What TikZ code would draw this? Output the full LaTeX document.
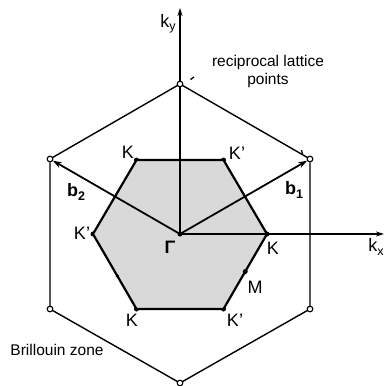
\documentclass[tikz,border=0pt]{standalone}
\usepackage{fontspec}
\setmainfont{Liberation Sans}
\usetikzlibrary{arrows.meta,calc}
\newcommand{\lsub}[1]{\raisebox{-0.35ex}{\fontsize{12.5}{13}\selectfont #1}}
\begin{document}
\begin{tikzpicture}[x=1pt,y=-1pt,
  recip/.style={circle,draw,fill=white,line width=1pt,inner sep=0pt,minimum size=5.5pt},
  kdot/.style={circle,fill=black,inner sep=0pt,minimum size=5pt},
  outerline/.style={line width=1.4pt},
  innerline/.style={line width=2.2pt},
  vec/.style={line width=1.8pt,-{Stealth[length=9pt,width=6pt]}},
  axis/.style={line width=1.3pt,-{Stealth[length=8pt,width=5pt]}},
  lab/.style={font=\fontsize{18}{20}\selectfont,inner sep=0pt},
  txt/.style={font=\fontsize{15.5}{18}\selectfont,inner sep=0pt,align=center}]
\useasboundingbox (0,0) rectangle (384,386);
% centre and points
\coordinate (G) at (180,234);
\node[kdot] (Kr) at (267,234) {};
\node[kdot] (Ktr) at (223.5,160) {};
\node[kdot] (Ktl) at (136.5,160) {};
\node[kdot] (Kl) at (93,234) {};
\node[kdot] (Kbl) at (136.5,309) {};
\node[kdot] (Kbr) at (223.5,309) {};
% Brillouin zone fill
\fill[gray!30] (Kr.center) -- (Ktr.center) -- (Ktl.center) -- (Kl.center) -- (Kbl.center) -- (Kbr.center) -- cycle;
% axes
\coordinate (ky) at (180,8);
\coordinate (kx) at (384,234);
\draw[axis] (G) -- (ky);
\draw[axis] (G) -- (kx);
% outer hexagon
\node[recip] (Pt) at (180,84) {};
\node[recip] (Pur) at (310,159) {};
\node[recip] (Plr) at (310,309) {};
\node[recip] (Pb) at (180,383) {};
\node[recip] (Pll) at (50,309) {};
\node[recip] (Pul) at (50,159) {};
\draw[outerline] (Pt) -- (Pur) -- (Plr) -- (Pb) -- (Pll) -- (Pul) -- (Pt);
% inner hexagon
\draw[innerline,line join=round] (Kr.center) -- (Ktr.center) -- (Ktl.center) -- (Kl.center) -- (Kbl.center) -- (Kbr.center) -- cycle;
% reciprocal vectors
\draw[vec] (G) -- (Pur);
\draw[vec] (G) -- (Pul);
% redraw points on top
\foreach \p in {Pt,Pur,Plr,Pb,Pll,Pul} \node[recip] at (\p) {};
\node[kdot] (Gam) at (G) {};
\node[kdot] (M) at ($(Kr)!0.5!(Kbr)$) {};
\node[kdot,minimum size=3.5pt] (Mm) at ($(Kl)!0.56!(Kbl)$) {};
% small marks
\coordinate (t1a) at (190.5,79.5); \coordinate (t1b) at (194,77);
\coordinate (t2a) at (301.5,150); \coordinate (t2b) at (302.5,154);
\draw[line width=1.3pt] (t1a) -- (t1b);
\draw[line width=1.3pt] (t2a) -- (t2b);
% labels
\node[lab] (lky) at (168,24) {k\lsub{y}};
\node[lab] (lkx) at (376,247) {k\lsub{x}};
\node[txt] (lrecip) at (268,71) {reciprocal lattice\\points};
\node[txt] (lbz) at (57,350) {Brillouin zone};
\node[lab] (l1) at (128,152) {K};
\node[lab] (l2) at (237,153) {K'};
\node[lab,font=\fontsize{18}{20}\selectfont\bfseries] (lb2) at (76,192) {b\lsub{\bfseries 2}};
\node[lab,font=\fontsize{18}{20}\selectfont\bfseries] (lb1) at (294,190) {b\lsub{\bfseries 1}};
\node[lab] (l3) at (82,233) {K'};
\node[lab,font=\fontsize{18}{20}\selectfont\bfseries] (lG) at (170,247) {Γ};
\node[lab] (l4) at (273,248) {K};
\node[lab] (lM) at (255,287) {M};
\node[lab] (l5) at (132,320) {K};
\node[lab] (l6) at (235,320) {K'};
\end{tikzpicture}
\end{document}
